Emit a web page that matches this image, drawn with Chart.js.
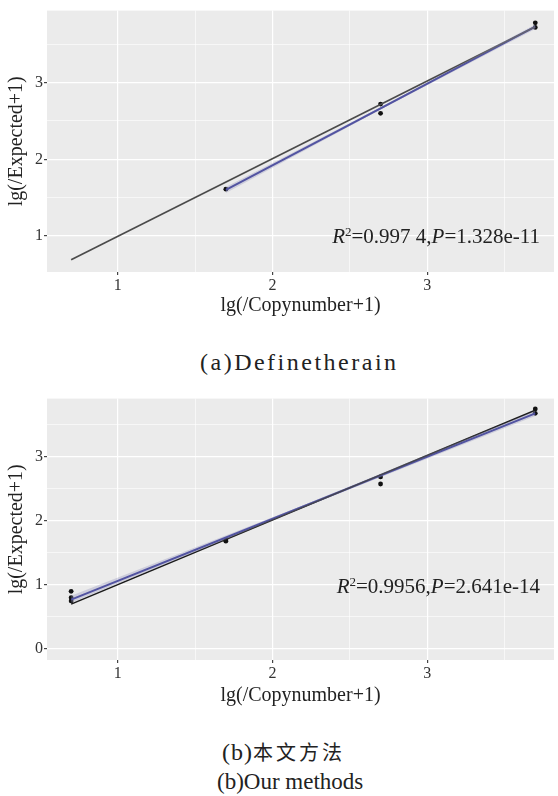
<!DOCTYPE html>
<html lang="zh">
<head>
<meta charset="UTF-8">
<title>lg(/Expected+1) vs lg(/Copynumber+1)</title>
<script src="https://cdn.jsdelivr.net/npm/chart.js@4.4.1/dist/chart.umd.min.js"></script>
<style>
  body { margin: 0; background: #fff; width: 558px; height: 796px; position: relative; overflow: hidden; }
  canvas { position: absolute; left: 0; }
  #chartA { top: 0; }
  #chartB { top: 388px; }
  .cap { position: absolute; white-space: nowrap; color: #222;
         font-family: 'Liberation Serif', serif; font-size: 24px; line-height: 28px; }
  .cjk { font-family: 'Noto Sans CJK SC', sans-serif; font-size: 20px; letter-spacing: 3px; }
</style>
</head>
<body>
<canvas id="chartA" width="558" height="320"></canvas>
<canvas id="chartB" width="558" height="320"></canvas>
<div class="cap" style="top:348px; left:200px; letter-spacing:2.5px">(a)Definetherain</div>
<div class="cap" style="top:738px; left:222px; letter-spacing:1px">(b)<span class="cjk">本文方法</span></div>
<div class="cap" style="top:768px; left:217px; font-size:23px; letter-spacing:0">(b)Our methods</div>
<script>
// ticks
const xTicks = [0.5, 1, 1.5, 2, 2.5, 3, 3.5];
const yTicksA = [1, 1.5, 2, 2.5, 3, 3.5];
const yTicksB = [0, 0.5, 1, 1.5, 2, 2.5, 3, 3.5];

// (a) Definetherain
const aPointX = [1.699, 2.699, 2.699, 3.699, 3.699];
const aPointY = [1.61, 2.72, 2.60, 3.78, 3.72];
const aIdentX = [0.699, 3.699];
const aIdentY = [0.69, 3.73];
const aFitX = [1.699, 2.699, 3.699];
const aFitY = [1.60, 2.665, 3.73];
const aFitLo = [1.56, 2.65, 3.70];
const aFitHi = [1.64, 2.68, 3.76];
const aStat = { r2: '0.997 4', p: '1.328e-11' };

// (b) 本文方法
const bPointX = [0.699, 0.699, 0.699, 1.699, 1.699, 2.699, 2.699, 3.699, 3.699];
const bPointY = [0.90, 0.80, 0.75, 1.70, 1.68, 2.68, 2.57, 3.74, 3.67];
const bIdentX = [0.699, 3.699];
const bIdentY = [0.70, 3.72];
const bFitX = [0.699, 2.199, 3.699];
const bFitY = [0.77, 2.22, 3.67];
const bFitLo = [0.72, 2.20, 3.63];
const bFitHi = [0.83, 2.24, 3.71];
const bStat = { r2: '0.9956', p: '2.641e-14' };

const serif = 'Liberation Serif';

function pts(xs, ys) {
  return xs.map((x, i) => ({ x: x, y: ys[i] }));
}

// grey panel like ggplot
const panelBg = {
  id: 'panelBg',
  beforeDraw(chart) {
    const a = chart.chartArea, ctx = chart.ctx;
    ctx.save();
    ctx.fillStyle = '#ebebeb';
    ctx.fillRect(a.left, a.top, a.right - a.left, a.bottom - a.top);
    ctx.restore();
  }
};

// R^2 / P label
const statLabel = {
  id: 'statLabel',
  afterDatasetsDraw(chart, args, opts) {
    const ctx = chart.ctx;
    const xr = chart.scales.x.getPixelForValue(opts.x);
    const yb = chart.scales.y.getPixelForValue(opts.y);
    const parts = [
      ['italic 21px ' + serif, 'R', 0],
      ['13px ' + serif, '2', -7],
      ['21px ' + serif, '=' + opts.r2 + ',', 0],
      ['italic 21px ' + serif, 'P', 0],
      ['21px ' + serif, '=' + opts.p, 0]
    ];
    ctx.save();
    ctx.fillStyle = '#222';
    ctx.textBaseline = 'alphabetic';
    let w = 0;
    parts.forEach(p => { ctx.font = p[0]; w += ctx.measureText(p[1]).width; });
    let x = xr - w;
    parts.forEach(p => {
      ctx.font = p[0];
      ctx.fillText(p[1], x, yb + p[2]);
      x += ctx.measureText(p[1]).width;
    });
    ctx.restore();
  }
};

function makeChart(id, d) {
  const gridW = c => Number.isInteger(c.tick.value) ? 1.2 : 0.6;
  const tickC = c => Number.isInteger(c.tick.value) ? '#444' : 'rgba(0,0,0,0)';
  return new Chart(document.getElementById(id), {
    type: 'scatter',
    data: {
      datasets: [
        { type: 'line', data: pts(d.fitX, d.lo), borderWidth: 0, pointRadius: 0, fill: false },
        { type: 'line', data: pts(d.fitX, d.hi), borderWidth: 0, pointRadius: 0,
          fill: '-1', backgroundColor: 'rgba(150,150,190,0.35)' },
        { type: 'line', data: pts(d.identX, d.identY), borderColor: d.identColor, borderWidth: 1.6,
          pointRadius: 0, fill: false },
        { type: 'line', data: pts(d.fitX, d.fitY), borderColor: '#2e3192', borderWidth: 2,
          pointRadius: 0, fill: false },
        { data: pts(d.px, d.py), pointRadius: 2.4, backgroundColor: '#111', borderWidth: 0 }
      ]
    },
    options: {
      responsive: false,
      animation: false,
      devicePixelRatio: 1,
      layout: { padding: { top: 9, right: 1, left: 0, bottom: 0 } },
      plugins: {
        legend: { display: false },
        tooltip: { enabled: false },
        statLabel: { x: 3.73, y: d.statY, r2: d.stat.r2, p: d.stat.p }
      },
      scales: {
        x: {
          type: 'linear', min: 0.543, max: 3.82,
          afterBuildTicks: s => { s.ticks = xTicks.map(v => ({ value: v })); },
          afterFit: s => { s.height = 48; },
          ticks: {
            callback: v => Number.isInteger(v) ? String(v) : '',
            font: { family: serif, size: 16 }, color: '#333', padding: 1, maxRotation: 0
          },
          grid: { color: '#fff', lineWidth: gridW, tickColor: tickC, tickLength: 3 },
          border: { display: false },
          title: {
            display: true, text: 'lg(/Copynumber+1)', color: '#222',
            font: { family: serif, size: 20 }, padding: { top: 0, bottom: d.titlePad }
          }
        },
        y: {
          type: 'linear', min: d.yMin, max: d.yMax,
          afterBuildTicks: s => { s.ticks = d.yTicks.map(v => ({ value: v })); },
          afterFit: s => { s.width = 47; },
          ticks: {
            callback: v => Number.isInteger(v) ? String(v) : '',
            font: { family: serif, size: 16 }, color: '#333', padding: 1
          },
          grid: { color: '#fff', lineWidth: gridW, tickColor: tickC, tickLength: 3 },
          border: { display: false },
          title: {
            display: true, text: 'lg(/Expected+1)', color: '#222',
            font: { family: serif, size: 20 }, padding: { top: 5, bottom: 0 }
          }
        }
      }
    },
    plugins: [panelBg, statLabel]
  });
}

makeChart('chartA', {
  px: aPointX, py: aPointY, identX: aIdentX, identY: aIdentY, identColor: '#4a4a4a',
  fitX: aFitX, fitY: aFitY, lo: aFitLo, hi: aFitHi, stat: aStat, statY: 0.91,
  yMin: 0.53, yMax: 3.94, yTicks: yTicksA, titlePad: 2
});
makeChart('chartB', {
  px: bPointX, py: bPointY, identX: bIdentX, identY: bIdentY, identColor: '#1a1a1a',
  fitX: bFitX, fitY: bFitY, lo: bFitLo, hi: bFitHi, stat: bStat, statY: 0.87,
  yMin: -0.17, yMax: 3.90, yTicks: yTicksB, titlePad: 0
});
</script>
</body>
</html>
